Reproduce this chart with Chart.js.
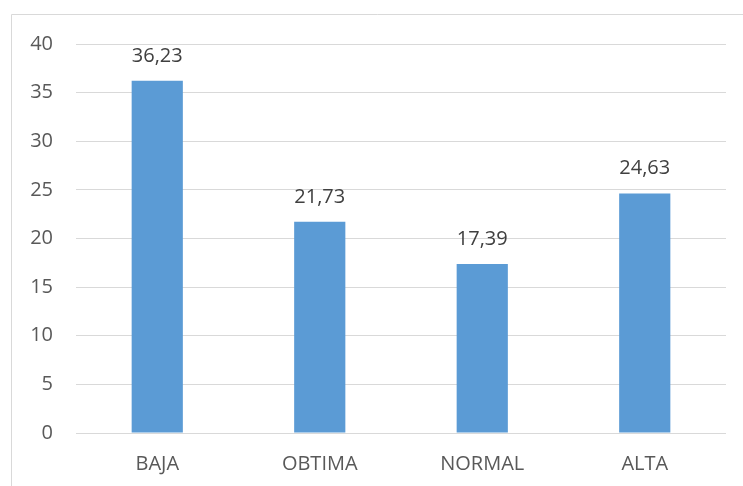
<!DOCTYPE html>
<html>
<head>
<meta charset="utf-8">
<script src="https://cdn.jsdelivr.net/npm/chart.js@4"></script>
<style>
  html, body { margin: 0; padding: 0; background: #ffffff; }
  #wrap { position: relative; width: 743px; height: 486px; }
</style>
</head>
<body>
<div id="wrap"><canvas id="c" width="743" height="486"></canvas></div>
<script>
const categories = ['BAJA', 'OBTIMA', 'NORMAL', 'ALTA'];
const values = [36.23, 21.73, 17.39, 24.63];
const yTicks = [0, 5, 10, 15, 20, 25, 30, 35, 40];

const FONT = "'Open Sans', 'Liberation Sans', sans-serif";
const fmt = v => v.toFixed(2).replace('.', ',');

// Light frame around the chart object
const framePlugin = {
  id: 'frame',
  beforeDraw(chart) {
    const ctx = chart.ctx;
    ctx.save();
    ctx.strokeStyle = '#d9d9d9';
    ctx.lineWidth = 1;
    ctx.beginPath();
    ctx.moveTo(11.5, chart.height);
    ctx.lineTo(11.5, 14.5);
    ctx.lineTo(chart.width, 14.5);
    ctx.stroke();
    ctx.restore();
  }
};

// Value labels above each bar
const valueLabels = {
  id: 'valueLabels',
  afterDatasetsDraw(chart) {
    const ctx = chart.ctx;
    const meta = chart.getDatasetMeta(0);
    ctx.save();
    ctx.font = '20px ' + FONT;
    ctx.fillStyle = '#404040';
    ctx.textAlign = 'center';
    ctx.textBaseline = 'alphabetic';
    meta.data.forEach((bar, i) => {
      ctx.fillText(fmt(values[i]), bar.x, bar.y - 19);
    });
    ctx.restore();
  }
};

new Chart(document.getElementById('c'), {
  type: 'bar',
  data: {
    labels: categories,
    datasets: [{
      data: values,
      backgroundColor: '#5b9bd5',
      barPercentage: 0.315,
      categoryPercentage: 1
    }]
  },
  options: {
    responsive: false,
    animation: false,
    layout: { padding: { top: 44, right: 17, left: 0, bottom: 0 } },
    plugins: { legend: { display: false }, tooltip: { enabled: false } },
    scales: {
      x: {
        grid: { display: false, drawTicks: false },
        border: { display: false },
        ticks: { color: '#595959', font: { family: FONT, size: 20 }, padding: 19 },
        afterFit(s) { s.height = 53; }
      },
      y: {
        min: 0,
        max: 40,
        afterBuildTicks(s) { s.ticks = yTicks.map(v => ({ value: v })); },
        grid: { color: '#d9d9d9', lineWidth: 1, drawTicks: false },
        border: { display: false },
        ticks: { color: '#595959', font: { family: FONT, size: 20 }, padding: 23 },
        afterFit(s) { s.width = 76; }
      }
    }
  },
  plugins: [framePlugin, valueLabels]
});
</script>
</body>
</html>
